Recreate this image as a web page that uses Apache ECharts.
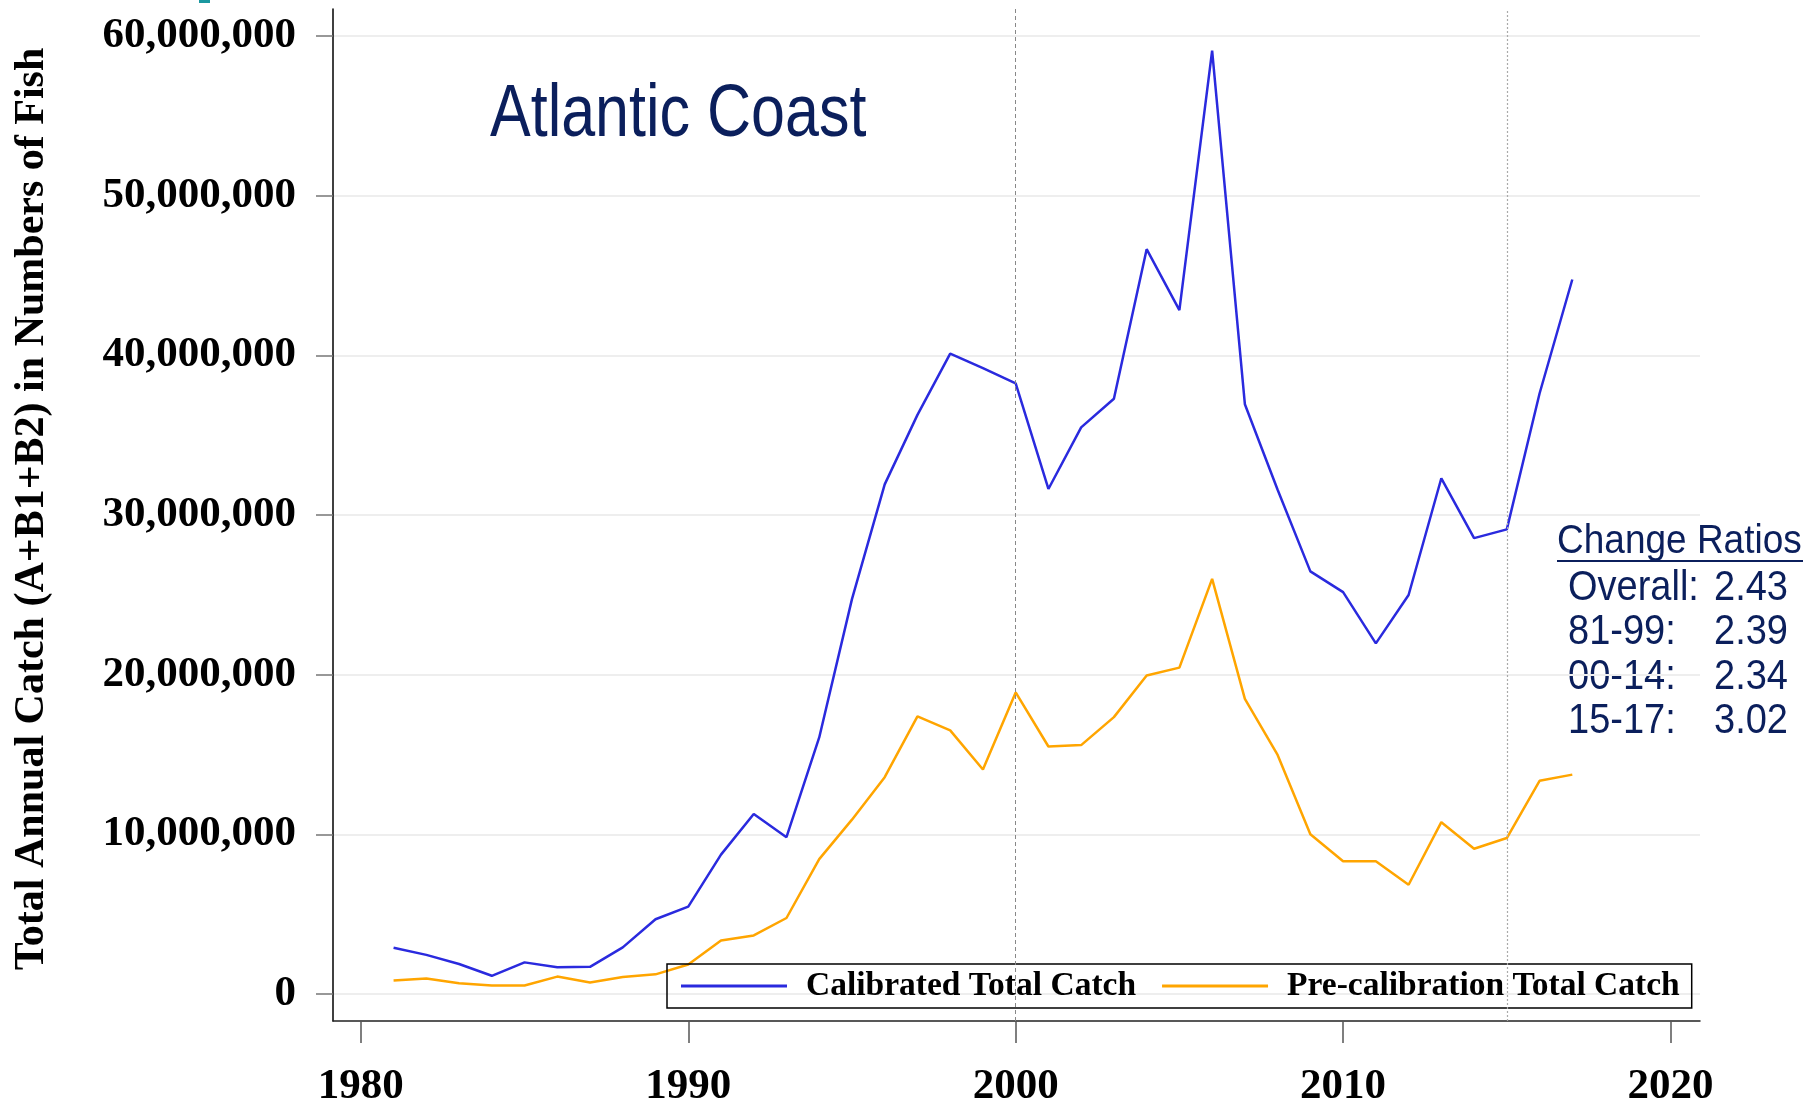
<!DOCTYPE html>
<html>
<head>
<meta charset="utf-8">
<script src="https://cdn.jsdelivr.net/npm/echarts@6/dist/echarts.min.js"></script>
<style>
  html, body { margin: 0; padding: 0; background: #fff; }
  #chart { width: 1820px; height: 1101px; }
</style>
</head>
<body>
<div id="chart"></div>
<script>
// years on the x axis
const years = [1981, 1982, 1983, 1984, 1985, 1986, 1987, 1988, 1989, 1990,
  1991, 1992, 1993, 1994, 1995, 1996, 1997, 1998, 1999, 2000,
  2001, 2002, 2003, 2004, 2005, 2006, 2007, 2008, 2009, 2010,
  2011, 2012, 2013, 2014, 2015, 2016, 2017];

// total annual catch, numbers of fish
const calibrated = [2900000, 2450000, 1880000, 1140000, 1980000, 1670000, 1700000, 2920000, 4680000, 5470000,
  8730000, 11270000, 9820000, 16070000, 24730000, 31920000, 36270000, 40110000, 39200000, 38240000,
  31630000, 35490000, 37280000, 46650000, 42830000, 59080000, 36940000, 31580000, 26470000, 25170000,
  21960000, 24990000, 32300000, 28550000, 29100000, 37610000, 44750000];
const precalibration = [840000, 970000, 670000, 530000, 530000, 1090000, 720000, 1060000, 1230000, 1850000,
  3350000, 3670000, 4760000, 8450000, 10920000, 13580000, 17390000, 16510000, 14060000, 18890000,
  15500000, 15590000, 17340000, 19950000, 20440000, 26000000, 18480000, 14970000, 10000000, 8310000,
  8310000, 6840000, 10760000, 9100000, 9770000, 13350000, 13740000];

const xTicks = [1980, 1990, 2000, 2010, 2020];
const periodBreaks = [2000, 2015];
const ratioLabels = ['Overall:', '81-99:', '00-14:', '15-17:'];
const ratioValues = ['2.43', '2.39', '2.34', '3.02'];

const seriesNames = ['Calibrated Total Catch', 'Pre-calibration Total Catch'];
const navy = '#0b1f5c';
const serif = '"Liberation Serif", "Times New Roman", serif';
const sans = '"Liberation Sans", Arial, sans-serif';

const xMin = 1979.15, xMax = 2020.9;

function pairs(vals) {
  return years.map((y, i) => [y, vals[i]]);
}

const chart = echarts.init(document.getElementById('chart'));

const ratioText = [];
ratioLabels.forEach((lab, i) => {
  const y = 588 + i * 44.5;
  ratioText.push({
    type: 'text', x: 1568, y: y, scaleY: 1.1,
    style: { text: lab, fontSize: 38, fontFamily: sans, fill: navy, verticalAlign: 'middle' }
  });
  ratioText.push({
    type: 'text', x: 1714, y: y, scaleY: 1.1,
    style: { text: ratioValues[i], fontSize: 38, fontFamily: sans, fill: navy, verticalAlign: 'middle' }
  });
});

chart.setOption({
  animation: false,
  backgroundColor: '#fff',
  grid: [
    { left: 333, right: 120, top: 36, bottom: 107, outerBoundsMode: 'none' },
    { left: 333, right: 120, top: 9, bottom: 80, outerBoundsMode: 'none' }
  ],
  xAxis: [
    { gridIndex: 0, type: 'value', min: xMin, max: xMax, show: false },
    {
      gridIndex: 1, type: 'value', min: xMin, max: xMax,
      axisLine: { onZero: false, lineStyle: { color: '#222', width: 1.5 } },
      axisTick: { customValues: xTicks, length: 22, lineStyle: { color: '#555', width: 1.5 } },
      axisLabel: {
        customValues: xTicks, margin: 44,
        fontSize: 43, fontWeight: 'bold', fontFamily: serif, color: '#000',
        formatter: v => String(v)
      },
      splitLine: { show: false }
    }
  ],
  yAxis: [
    {
      gridIndex: 0, type: 'value', min: 0, max: 60000000, interval: 10000000,
      axisLine: { show: false },
      axisTick: { show: true, length: 17, lineStyle: { color: '#777', width: 1.5 } },
      axisLabel: {
        margin: 37, fontSize: 43, fontWeight: 'bold', fontFamily: serif, color: '#000',
        formatter: v => v.toLocaleString('en-US')
      },
      splitLine: { lineStyle: { color: '#eeeeee', width: 2 } }
    },
    {
      gridIndex: 1, type: 'value', min: -1691000, max: 61691000,
      axisLine: { show: true, onZero: false, lineStyle: { color: '#000', width: 1.5 } },
      axisTick: { show: false },
      axisLabel: { show: false },
      splitLine: { show: false }
    }
  ],
  legend: {
    left: 667, top: 964,
    data: seriesNames,
    orient: 'horizontal',
    icon: 'rect',
    itemWidth: 106, itemHeight: 3, itemGap: 26,
    padding: [5, 12, 5, 14],
    borderColor: '#000', borderWidth: 1.5,
    backgroundColor: 'transparent',
    textStyle: { fontSize: 33.5, fontWeight: 'bold', fontFamily: serif, color: '#000', padding: [0, 0, 0, 14] }
  },
  series: [
    {
      name: seriesNames[0], type: 'line', xAxisIndex: 1, yAxisIndex: 1,
      data: pairs(calibrated), showSymbol: false, symbol: 'none',
      lineStyle: { color: '#2a2ade', width: 2.5 }, itemStyle: { color: '#2a2ade' },
      z: 3,
      markLine: {
        silent: true, symbol: 'none', label: { show: false },
        data: [
          { xAxis: periodBreaks[0], lineStyle: { color: '#888', type: [4, 3], width: 1 } },
          { xAxis: periodBreaks[1], lineStyle: { color: '#aaa', type: [2, 2], width: 1.2 } }
        ]
      }
    },
    {
      name: seriesNames[1], type: 'line', xAxisIndex: 1, yAxisIndex: 1,
      data: pairs(precalibration), showSymbol: false, symbol: 'none',
      lineStyle: { color: '#ffa500', width: 2.5 }, itemStyle: { color: '#ffa500' },
      z: 2
    }
  ],
  graphic: [
    { type: 'rect', x: 199, y: 0, shape: { width: 11, height: 3 }, style: { fill: '#1b98a0' } },
    {
      type: 'text', x: 490, y: 116, scaleY: 1.2,
      style: { text: 'Atlantic Coast', fontSize: 61, fontFamily: sans, fill: navy, verticalAlign: 'middle' }
    },
    {
      type: 'text', x: 32, y: 509, rotation: Math.PI / 2,
      style: {
        text: 'Total Annual Catch (A+B1+B2) in Numbers of Fish',
        fontSize: 42, fontWeight: 'bold', fontFamily: serif, fill: '#000',
        align: 'center', verticalAlign: 'middle'
      }
    },
    {
      type: 'text', x: 1557, y: 542, scaleY: 1.1,
      style: { text: 'Change Ratios', fontSize: 37, fontFamily: sans, fill: navy, verticalAlign: 'middle' }
    },
    { type: 'line', shape: { x1: 1557, y1: 561, x2: 1803, y2: 561 }, style: { stroke: navy, lineWidth: 2 } }
  ].concat(ratioText)
});
</script>
</body>
</html>
